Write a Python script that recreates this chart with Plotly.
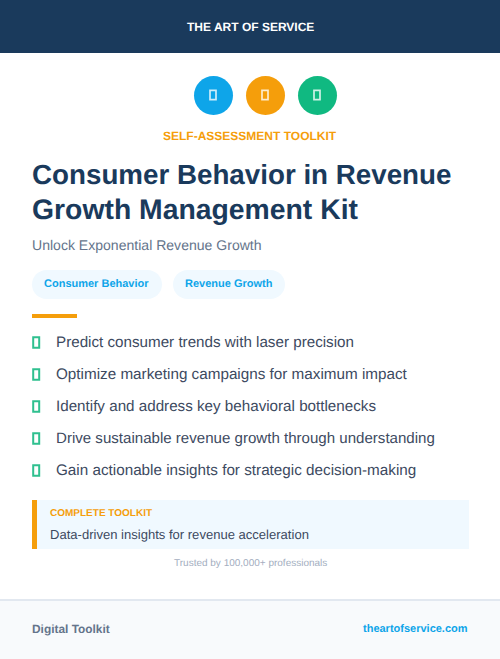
import plotly.graph_objects as go

FONT = "Liberation Sans, Arial, sans-serif"
NAVY = "#1a3a5c"
BLUE = "#0ea5e9"
AMBER = "#f59e0b"
GREEN = "#10b981"
SLATE = "#3d4a5f"

brand = "THE ART OF SERVICE"
kicker = "SELF-ASSESSMENT TOOLKIT"
title_lines = ["Consumer Behavior in Revenue", "Growth Management Kit"]
subtitle = "Unlock Exponential Revenue Growth"
tags = ["Consumer Behavior", "Revenue Growth"]
bullets = [
    "Predict consumer trends with laser precision",
    "Optimize marketing campaigns for maximum impact",
    "Identify and address key behavioral bottlenecks",
    "Drive sustainable revenue growth through understanding",
    "Gain actionable insights for strategic decision-making",
]
callout_head = "COMPLETE TOOLKIT"
callout_body = "Data-driven insights for revenue acceleration"
trust = "Trusted by 100,000+ professionals"
footer_left = "Digital Toolkit"
footer_right = "theartofservice.com"

shapes, notes = [], []


def rect(x0, y0, x1, y1, fill):
    shapes.append(dict(type="rect", x0=x0, y0=y0, x1=x1, y1=y1,
                       fillcolor=fill, line_width=0, layer="below"))


def outline(x0, y0, x1, y1, color, width=1.4):
    shapes.append(dict(type="rect", x0=x0, y0=y0, x1=x1, y1=y1,
                       fillcolor="rgba(0,0,0,0)", line=dict(color=color, width=width)))


def circle(cx, cy, r, fill):
    shapes.append(dict(type="circle", x0=cx - r, y0=cy - r, x1=cx + r, y1=cy + r,
                       fillcolor=fill, line_width=0))


def pill(x0, y0, x1, y1, fill):
    r = (y1 - y0) / 2
    k = r * 0.5523
    path = (f"M {x0+r} {y0} L {x1-r} {y0} "
            f"C {x1-r+k} {y0} {x1} {y0+r-k} {x1} {y0+r} "
            f"C {x1} {y0+r+k} {x1-r+k} {y1} {x1-r} {y1} "
            f"L {x0+r} {y1} "
            f"C {x0+r-k} {y1} {x0} {y0+r+k} {x0} {y0+r} "
            f"C {x0} {y0+r-k} {x0+r-k} {y0} {x0+r} {y0} Z")
    shapes.append(dict(type="path", path=path, fillcolor=fill, line_width=0, layer="below"))


def text(x, y, s, size, color, anchor="left", bold=False):
    notes.append(dict(x=x, y=y, text=s, showarrow=False, xanchor=anchor, yanchor="middle",
                      xref="x", yref="y", borderpad=0, borderwidth=0,
                      font=dict(family=FONT, size=size, color=color,
                                weight=700 if bold else 400)))


# bands
rect(0, 0, 500, 53, NAVY)
rect(0, 600, 500, 659, "#f8fafc")
rect(0, 599, 500, 601, "#e2e8f0")
text(250, 26.5, brand, 12, "#ffffff", "center", bold=True)

# icons
for cx, col in zip([213, 265, 317], [BLUE, AMBER, GREEN]):
    circle(cx + 0.5, 95.5, 19.5, col)
    outline(cx - 3, 90.3, cx + 3, 99.7, "rgba(255,255,255,0.8)", 1.7)

text(249.5, 135.5, kicker, 12, AMBER, "center", bold=True)
for y, line, size in zip([174.5, 209], title_lines, [27.75, 28.35]):
    text(32, y, line, size, NAVY, bold=True)
text(32, 245, subtitle, 14.05, "#64748b")

# tags
for (x0, x1, tx), tag in zip([(32, 162, 44), (173, 285, 185)], tags):
    pill(x0, 270, x1, 299, "#f0f9ff")
    text(tx, 283, tag, 11, BLUE, bold=True)

rect(32, 314, 77, 318, AMBER)

for y, line, size in zip([342, 374, 406, 438, 470], bullets, [15.2, 15.25, 15.2, 15.08, 15.25]):
    outline(33.2, y - 4.7, 39.2, y + 5.7, "#2fc08f", 2)
    text(56, y - 0.7, line, size, SLATE)

# callout
rect(32, 500, 469, 549, "#f0f9ff")
rect(32, 500, 37, 549, AMBER)
text(50, 512, callout_head, 10, AMBER, bold=True)
text(50, 534, callout_body, 13.05, SLATE)
text(250, 562.5, trust, 10, "#a3aec0", "center")

text(32, 629, footer_left, 11.9, "#64748b", bold=True)
text(468, 628, footer_right, 11, BLUE, "right", bold=True)

fig = go.Figure()
fig.update_layout(
    width=500, height=659, margin=dict(l=0, r=0, t=0, b=0),
    paper_bgcolor="#ffffff", plot_bgcolor="#ffffff",
    xaxis=dict(range=[0, 500], visible=False, fixedrange=True),
    yaxis=dict(range=[659, 0], visible=False, fixedrange=True),
    shapes=shapes, annotations=notes, showlegend=False,
)
css = ("var s=document.createElement('style');"
       "s.textContent='svg text{text-rendering:geometricPrecision !important}';"
       "document.head.appendChild(s);"
       "document.body.style.margin='0';document.body.style.overflow='hidden';")
fig.write_html("out.html", config=dict(displayModeBar=False), post_script=css)
